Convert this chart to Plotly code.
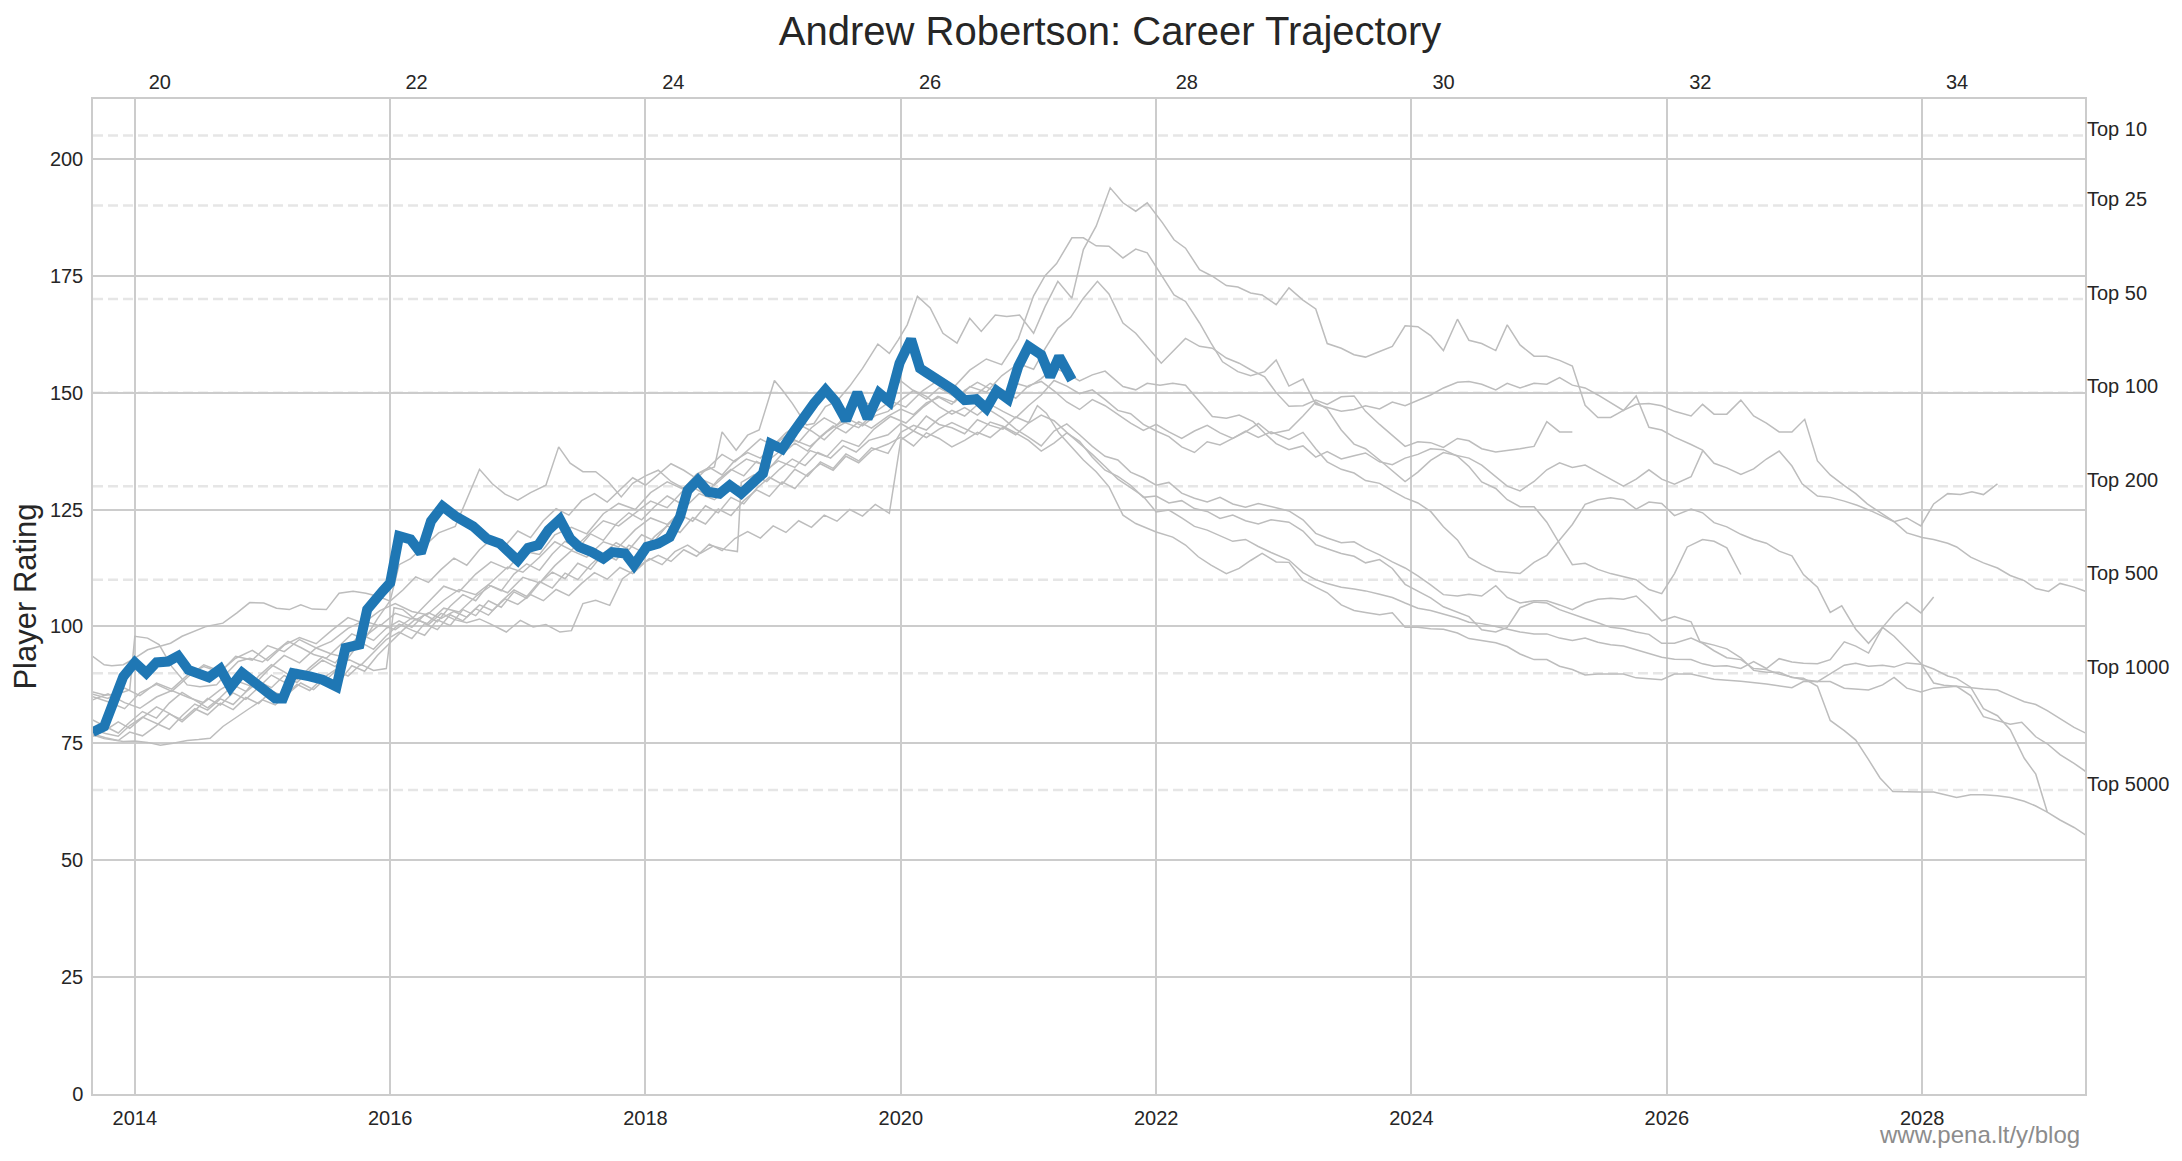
import plotly.graph_objects as go

# ---------------- data ----------------
PLAYER = "Andrew Robertson"

YEAR_TICKS = [2014, 2016, 2018, 2020, 2022, 2024, 2026, 2028]
AGE_TICKS = [20, 22, 24, 26, 28, 30, 32, 34]
RATING_TICKS = [0, 25, 50, 75, 100, 125, 150, 175, 200]

RANK_LEVELS = [205, 190, 170, 150, 130, 110, 90, 65]
RANK_LABELS = ["Top 10", "Top 25", "Top 50", "Top 100", "Top 200", "Top 500", "Top 1000", "Top 5000"]

ROBERTSON = [
    (2013.67, 77.4), (2013.76, 78.6), (2013.91, 89.3), (2014.00, 92.3), (2014.09, 90.0), (2014.17, 92.3),
    (2014.26, 92.5), (2014.34, 93.7), (2014.42, 90.7), (2014.58, 89.1), (2014.67, 90.9), (2014.75, 87.0),
    (2014.84, 90.1), (2014.93, 88.2), (2015.01, 87.1), (2015.10, 84.6), (2015.16, 84.6), (2015.24, 90.0),
    (2015.37, 89.3), (2015.47, 88.6), (2015.58, 87.1), (2015.65, 95.4), (2015.76, 96.1), (2015.82, 103.6),
    (2015.94, 107.5), (2016.00, 109.3), (2016.07, 119.3), (2016.16, 118.6), (2016.24, 115.7), (2016.32, 122.5),
    (2016.41, 125.7), (2016.51, 123.6), (2016.65, 121.4), (2016.76, 118.7), (2016.86, 117.7), (2016.94, 115.9),
    (2017.00, 114.1), (2017.08, 116.8), (2017.16, 117.4), (2017.24, 120.6), (2017.33, 122.9), (2017.41, 118.8),
    (2017.48, 117.0), (2017.58, 115.9), (2017.67, 114.5), (2017.74, 115.9), (2017.84, 115.6), (2017.91, 113.1),
    (2018.01, 117.0), (2018.10, 117.7), (2018.19, 119.1), (2018.27, 123.4), (2018.33, 129.1), (2018.41, 131.3),
    (2018.49, 128.8), (2018.58, 128.4), (2018.66, 130.2), (2018.75, 128.4), (2018.83, 130.2), (2018.92, 132.7),
    (2018.98, 139.1), (2019.07, 137.9), (2019.16, 141.6), (2019.26, 145.6), (2019.32, 147.7), (2019.41, 150.6),
    (2019.49, 148.1), (2019.57, 144.1), (2019.66, 150.0), (2019.74, 144.5), (2019.83, 149.9), (2019.91, 148.1),
    (2019.99, 156.3), (2020.08, 161.4), (2020.15, 155.2), (2020.20, 154.3), (2020.31, 152.4), (2020.41, 150.6),
    (2020.50, 148.4), (2020.59, 148.6), (2020.67, 146.6), (2020.75, 150.4), (2020.84, 148.6), (2020.92, 155.6),
    (2021.00, 159.9), (2021.10, 158.1), (2021.17, 153.4), (2021.24, 157.7), (2021.34, 152.7),
]

COMP_A = [
    (2013.67, 85.5), (2013.79, 84.6), (2013.92, 86.8), (2014.04, 85.2), (2014.17, 87.9), (2014.29, 86.6),
    (2014.42, 89.8), (2014.54, 91.4), (2014.67, 90.2), (2014.79, 93.6), (2014.92, 92.8), (2015.04, 95.9),
    (2015.17, 94.6), (2015.29, 97.2), (2015.42, 95.4), (2015.54, 96.8), (2015.67, 99.6), (2015.79, 101.2),
    (2015.92, 100.1), (2016.04, 102.8), (2016.17, 101.6), (2016.29, 104.9), (2016.42, 108.6), (2016.54, 107.4),
    (2016.67, 111.2), (2016.79, 113.8), (2016.92, 112.3), (2017.04, 116.1), (2017.17, 115.4), (2017.29, 119.6),
    (2017.42, 121.2), (2017.54, 119.8), (2017.67, 124.1), (2017.79, 126.3), (2017.92, 125.0), (2018.04, 128.6),
    (2018.17, 130.9), (2018.29, 129.4), (2018.42, 132.8), (2018.54, 134.1), (2018.60, 141.6), (2018.71, 137.7),
    (2018.80, 140.9), (2018.89, 142.0), (2019.01, 152.6), (2019.07, 150.6), (2019.15, 147.7), (2019.26, 143.1),
    (2019.32, 143.4), (2019.41, 147.0), (2019.50, 148.2), (2019.60, 151.4), (2019.70, 155.2), (2019.82, 160.4),
    (2019.91, 158.4), (2019.98, 161.3), (2020.05, 164.5), (2020.13, 170.6), (2020.23, 168.1), (2020.33, 162.7),
    (2020.44, 160.6), (2020.54, 165.9), (2020.63, 163.1), (2020.74, 166.6), (2020.83, 166.3), (2020.93, 166.6),
    (2021.04, 162.7), (2021.13, 168.4), (2021.23, 173.8), (2021.34, 170.2), (2021.43, 180.6), (2021.53, 185.6),
    (2021.64, 193.8), (2021.74, 190.6), (2021.84, 188.8), (2021.93, 190.6), (2022.05, 186.3), (2022.14, 182.7),
    (2022.23, 180.9), (2022.34, 176.3), (2022.44, 174.9), (2022.55, 172.9), (2022.64, 172.6), (2022.74, 171.3),
    (2022.83, 170.9), (2022.94, 168.8), (2023.04, 172.4), (2023.15, 169.8), (2023.25, 167.9), (2023.34, 160.5),
    (2023.45, 159.5), (2023.55, 158.1), (2023.64, 157.6), (2023.75, 158.8), (2023.85, 159.9), (2023.95, 164.3),
    (2024.05, 164.1), (2024.15, 162.2), (2024.25, 159.0), (2024.36, 165.7), (2024.45, 161.2), (2024.55, 160.5),
    (2024.66, 159.0), (2024.75, 164.5), (2024.85, 160.2), (2024.96, 157.8), (2025.06, 157.8), (2025.16, 156.9),
    (2025.26, 155.7), (2025.36, 147.3), (2025.46, 144.7), (2025.56, 144.7), (2025.66, 146.2), (2025.76, 147.5),
    (2025.86, 147.7), (2025.96, 147.2), (2026.06, 146.0), (2026.19, 145.0), (2026.28, 147.5), (2026.37, 145.4),
    (2026.47, 145.4), (2026.58, 148.4), (2026.68, 145.0), (2026.78, 143.5), (2026.88, 141.6), (2026.98, 141.6),
    (2027.08, 144.3), (2027.18, 135.4), (2027.28, 132.4), (2027.39, 130.1), (2027.48, 128.4), (2027.57, 126.2),
    (2027.67, 124.3), (2027.78, 122.4), (2027.88, 120.0), (2028.00, 119.0), (2028.09, 118.6), (2028.20, 117.8),
    (2028.27, 117.0), (2028.38, 114.8), (2028.48, 113.6), (2028.59, 112.5), (2028.69, 110.9), (2028.80, 109.8),
    (2028.89, 108.1), (2028.99, 107.5), (2029.08, 109.2), (2029.19, 108.4), (2029.28, 107.5),
]

COMP_E = [
    (2013.67, 85.0), (2013.79, 83.9), (2013.92, 82.4), (2014.04, 85.8), (2014.17, 87.6), (2014.29, 86.1),
    (2014.42, 89.3), (2014.54, 91.8), (2014.67, 90.4), (2014.79, 93.2), (2014.92, 94.9), (2015.04, 92.7),
    (2015.17, 96.0), (2015.29, 97.6), (2015.42, 96.3), (2015.54, 99.1), (2015.67, 101.9), (2015.79, 100.7),
    (2015.92, 103.4), (2016.04, 104.9), (2016.17, 103.2), (2016.29, 102.5), (2016.42, 105.6), (2016.54, 107.9),
    (2016.67, 106.8), (2016.79, 109.4), (2016.92, 112.7), (2017.04, 111.6), (2017.17, 114.8), (2017.29, 118.1),
    (2017.42, 116.3), (2017.54, 119.4), (2017.67, 122.6), (2017.79, 121.5), (2017.92, 124.2), (2018.04, 126.8),
    (2018.17, 125.4), (2018.29, 128.9), (2018.42, 131.7), (2018.54, 130.2), (2018.67, 133.4), (2018.79, 135.8),
    (2018.92, 134.6), (2019.04, 137.2), (2019.17, 139.8), (2019.29, 138.5), (2019.42, 141.6), (2019.54, 143.8),
    (2019.67, 142.5), (2019.79, 145.7), (2019.92, 148.2), (2020.04, 146.9), (2020.17, 150.4), (2020.29, 152.6),
    (2020.42, 151.3), (2020.54, 154.8), (2020.67, 157.2), (2020.79, 156.0), (2020.92, 161.5), (2021.04, 170.7),
    (2021.13, 175.0), (2021.22, 177.6), (2021.34, 183.1), (2021.43, 183.1), (2021.53, 181.4), (2021.63, 181.3),
    (2021.74, 178.8), (2021.84, 180.7), (2021.93, 179.9), (2022.03, 175.6), (2022.14, 170.9), (2022.23, 169.5),
    (2022.34, 164.9), (2022.43, 160.6), (2022.52, 156.6), (2022.64, 154.5), (2022.74, 153.6), (2022.85, 154.5),
    (2022.94, 157.0), (2023.04, 151.4), (2023.15, 152.9), (2023.25, 147.5), (2023.34, 146.8), (2023.45, 146.0),
    (2023.55, 146.4), (2023.64, 147.2), (2023.75, 146.5), (2023.85, 148.0), (2023.95, 147.2), (2024.05, 148.4),
    (2024.15, 149.5), (2024.25, 151.0), (2024.36, 152.2), (2024.45, 152.4), (2024.55, 151.8), (2024.66, 150.6),
    (2024.75, 152.0), (2024.85, 151.0), (2024.96, 152.0), (2025.06, 151.8), (2025.16, 153.2), (2025.26, 151.6),
    (2025.36, 151.0), (2025.46, 149.5), (2025.56, 147.9), (2025.66, 146.2), (2025.76, 149.3), (2025.86, 142.6),
    (2025.96, 142.0), (2026.06, 140.5), (2026.19, 138.9), (2026.28, 137.7), (2026.37, 134.9), (2026.47, 133.9),
    (2026.58, 132.5), (2026.68, 133.7), (2026.78, 135.8), (2026.88, 137.5), (2026.98, 134.3), (2027.06, 130.5),
    (2027.18, 127.9), (2027.28, 127.6), (2027.39, 126.8), (2027.49, 125.9), (2027.60, 124.7), (2027.69, 123.6),
    (2027.78, 122.4), (2027.88, 123.2), (2027.99, 121.5), (2028.09, 126.2), (2028.20, 128.4), (2028.30, 128.2),
    (2028.39, 128.8), (2028.48, 128.2), (2028.59, 130.5),
]

COMP_H = [
    (2013.67, 84.3), (2013.79, 85.6), (2013.92, 83.7), (2014.04, 82.5), (2014.17, 84.9), (2014.29, 86.3),
    (2014.42, 84.8), (2014.54, 83.7), (2014.67, 86.5), (2014.79, 88.4), (2014.92, 87.1), (2015.04, 90.6),
    (2015.17, 93.8), (2015.29, 92.2), (2015.42, 95.4), (2015.54, 94.1), (2015.67, 93.2), (2015.79, 97.6),
    (2015.92, 100.4), (2016.04, 99.3), (2016.17, 101.8), (2016.29, 100.6), (2016.42, 103.9), (2016.54, 103.1),
    (2016.67, 106.4), (2016.79, 108.7), (2016.92, 107.2), (2017.04, 110.5), (2017.17, 109.3), (2017.29, 113.0),
    (2017.42, 116.2), (2017.54, 114.8), (2017.67, 118.1), (2017.79, 117.0), (2017.92, 120.7), (2018.04, 123.2),
    (2018.17, 121.8), (2018.29, 125.0), (2018.42, 128.4), (2018.54, 127.1), (2018.67, 130.2), (2018.79, 128.8),
    (2018.92, 132.9), (2019.04, 135.4), (2019.17, 134.0), (2019.29, 137.6), (2019.42, 136.3), (2019.54, 139.8),
    (2019.67, 138.5), (2019.79, 142.2), (2019.92, 144.9), (2020.04, 143.5), (2020.17, 146.8), (2020.29, 149.2),
    (2020.42, 147.9), (2020.54, 151.3), (2020.67, 150.1), (2020.79, 153.6), (2020.92, 156.2), (2021.04, 155.0),
    (2021.13, 159.4), (2021.23, 163.8), (2021.33, 166.1), (2021.43, 170.2), (2021.54, 173.8), (2021.63, 171.1),
    (2021.74, 164.9), (2021.84, 162.7), (2021.93, 159.9), (2022.04, 156.3), (2022.13, 158.8), (2022.23, 161.6),
    (2022.34, 159.9), (2022.44, 159.5), (2022.55, 157.4), (2022.65, 156.3), (2022.74, 154.9), (2022.85, 153.4),
    (2022.94, 150.0), (2023.04, 147.1), (2023.15, 147.2), (2023.25, 148.4), (2023.34, 147.5), (2023.45, 149.1),
    (2023.55, 149.3), (2023.64, 146.0), (2023.75, 143.2), (2023.85, 140.8), (2023.95, 138.5), (2024.05, 139.5),
    (2024.15, 139.3), (2024.25, 138.3), (2024.36, 140.2), (2024.45, 139.7), (2024.55, 138.0), (2024.66, 137.3),
    (2024.75, 137.6), (2024.85, 138.0), (2024.96, 138.5), (2025.06, 143.8), (2025.16, 141.6), (2025.26, 141.6),
]

COMP_Y = [
    (2013.67, 86.0), (2013.77, 85.3), (2013.87, 85.6), (2013.96, 86.4), (2014.00, 97.9), (2014.10, 97.5),
    (2014.19, 96.1), (2014.29, 91.4), (2014.41, 87.5), (2014.51, 87.1), (2014.64, 87.5), (2014.72, 90.0),
    (2014.81, 92.5), (2014.90, 93.2), (2015.00, 92.4), (2015.10, 94.6), (2015.20, 96.8), (2015.30, 95.5),
    (2015.40, 94.0), (2015.50, 93.2), (2015.60, 95.8), (2015.70, 98.4), (2015.80, 97.2), (2015.90, 101.6),
    (2016.00, 105.5), (2016.07, 113.2), (2016.16, 114.5), (2016.25, 116.8), (2016.38, 120.0), (2016.51, 121.4),
    (2016.64, 130.0), (2016.70, 133.6), (2016.80, 130.5), (2016.90, 128.3), (2017.00, 127.0), (2017.10, 128.6),
    (2017.22, 130.2), (2017.32, 138.4), (2017.41, 134.9), (2017.51, 133.1), (2017.61, 133.1), (2017.71, 130.9),
    (2017.81, 127.7), (2017.90, 130.6), (2018.00, 132.2), (2018.10, 133.4), (2018.20, 131.0), (2018.30, 129.5),
    (2018.40, 132.6), (2018.50, 134.0), (2018.60, 132.4), (2018.70, 135.5), (2018.80, 137.2), (2018.90, 136.0),
    (2019.00, 138.6), (2019.10, 140.8), (2019.20, 139.4), (2019.30, 142.5), (2019.40, 144.6), (2019.50, 143.1),
    (2019.60, 146.0), (2019.70, 148.2), (2019.80, 147.0), (2019.90, 150.0), (2020.00, 152.5), (2020.10, 150.4),
    (2020.20, 148.6), (2020.30, 151.0), (2020.40, 149.5), (2020.50, 147.6), (2020.60, 149.8), (2020.70, 152.0),
    (2020.80, 150.6), (2020.90, 148.8), (2021.00, 151.5), (2021.10, 152.4), (2021.20, 150.4), (2021.30, 148.0),
    (2021.40, 146.4), (2021.50, 148.5), (2021.60, 147.2), (2021.70, 145.4), (2021.80, 143.5), (2021.90, 141.9),
    (2022.00, 143.2), (2022.10, 141.6), (2022.20, 140.2), (2022.30, 141.8), (2022.40, 143.0), (2022.50, 141.4),
    (2022.60, 140.2), (2022.70, 141.6), (2022.80, 143.4), (2022.90, 141.2), (2023.04, 142.0), (2023.15, 145.0),
    (2023.25, 148.0), (2023.34, 146.5), (2023.45, 142.0), (2023.55, 139.0), (2023.64, 138.0), (2023.75, 135.6),
    (2023.85, 133.4), (2023.95, 131.0), (2024.05, 133.0), (2024.15, 135.5), (2024.25, 137.2), (2024.36, 136.5),
    (2024.45, 136.0), (2024.55, 134.5), (2024.66, 132.0), (2024.75, 130.0), (2024.85, 129.0), (2024.96, 131.0),
    (2025.06, 133.5), (2025.16, 135.0), (2025.26, 134.0), (2025.36, 134.5), (2025.46, 133.0), (2025.56, 131.5),
    (2025.66, 130.0), (2025.76, 131.5), (2025.86, 133.5), (2025.96, 131.5), (2026.06, 130.4), (2026.19, 132.0),
    (2026.28, 137.5),
]

COMP_C = [
    (2013.67, 93.6), (2013.76, 91.8), (2013.82, 91.6), (2013.91, 91.8), (2014.00, 93.2), (2014.10, 95.0),
    (2014.19, 95.7), (2014.28, 96.4), (2014.37, 97.9), (2014.46, 98.9), (2014.56, 100.0), (2014.69, 100.7),
    (2014.80, 102.9), (2014.90, 105.1), (2015.01, 105.0), (2015.11, 103.9), (2015.21, 103.6), (2015.30, 104.6),
    (2015.39, 103.7), (2015.50, 103.6), (2015.60, 107.1), (2015.71, 107.5), (2015.81, 107.1), (2015.91, 106.4),
    (2016.00, 105.4), (2016.10, 107.8), (2016.20, 110.6), (2016.30, 109.4), (2016.40, 112.2), (2016.50, 114.6),
    (2016.60, 113.1), (2016.70, 116.4), (2016.80, 118.8), (2016.90, 117.2), (2017.00, 120.4), (2017.10, 119.0),
    (2017.20, 122.6), (2017.30, 125.2), (2017.40, 123.8), (2017.50, 126.9), (2017.60, 128.4), (2017.70, 126.6),
    (2017.80, 129.2), (2017.90, 131.8), (2018.00, 130.2), (2018.10, 132.6), (2018.20, 134.8), (2018.30, 133.4),
    (2018.40, 131.6), (2018.50, 134.2), (2018.60, 136.8), (2018.70, 135.2), (2018.80, 137.6), (2018.90, 140.1),
    (2019.00, 138.7), (2019.10, 141.4), (2019.20, 143.2), (2019.30, 141.8), (2019.40, 139.9), (2019.50, 142.6),
    (2019.60, 144.2), (2019.70, 142.9), (2019.80, 145.1), (2019.90, 146.0), (2020.00, 148.4), (2020.10, 150.5),
    (2020.20, 149.2), (2020.30, 147.0), (2020.40, 145.4), (2020.50, 146.8), (2020.60, 145.2), (2020.70, 147.5),
    (2020.80, 146.0), (2020.90, 144.6), (2021.00, 147.2), (2021.10, 149.5), (2021.20, 152.6), (2021.30, 151.4),
    (2021.40, 149.8), (2021.50, 150.6), (2021.60, 148.5), (2021.70, 146.2), (2021.80, 145.5), (2021.90, 143.2),
    (2022.00, 141.8), (2022.10, 140.6), (2022.20, 138.4), (2022.30, 137.2), (2022.40, 139.5), (2022.50, 138.8),
    (2022.60, 140.2), (2022.70, 141.8), (2022.80, 140.4), (2022.90, 141.6), (2023.04, 140.0), (2023.15, 141.5),
    (2023.25, 138.0), (2023.34, 135.2), (2023.45, 133.6), (2023.55, 132.8), (2023.64, 131.2), (2023.75, 130.6),
    (2023.85, 129.0), (2023.95, 127.5), (2024.05, 126.4), (2024.15, 124.6), (2024.25, 121.3), (2024.36, 118.5),
    (2024.45, 114.8), (2024.55, 113.2), (2024.66, 111.8), (2024.75, 111.5), (2024.85, 111.3), (2024.96, 113.7),
    (2025.06, 115.2), (2025.16, 118.5), (2025.26, 121.8), (2025.36, 126.1), (2025.46, 127.1), (2025.56, 127.5),
    (2025.66, 127.1), (2025.76, 125.1), (2025.86, 126.6), (2025.96, 126.3), (2026.06, 123.7), (2026.19, 125.1),
    (2026.28, 124.3), (2026.37, 122.2), (2026.47, 121.3), (2026.58, 119.7), (2026.68, 118.6), (2026.78, 117.8),
    (2026.88, 116.1), (2026.98, 115.1), (2027.07, 111.1), (2027.18, 108.4), (2027.28, 103.0), (2027.37, 104.4),
    (2027.48, 99.4), (2027.58, 96.4), (2027.69, 99.8), (2027.78, 97.9), (2027.88, 95.2), (2027.99, 92.1),
    (2028.09, 87.9), (2028.17, 87.4), (2028.27, 87.2), (2028.38, 85.2), (2028.48, 80.7), (2028.59, 79.9),
    (2028.69, 79.1), (2028.78, 79.5), (2028.89, 76.4), (2028.98, 74.9), (2029.08, 72.6), (2029.19, 70.7),
    (2029.28, 69.0),
]

COMP_G = [
    (2013.67, 80.0), (2013.77, 78.6), (2013.87, 77.2), (2013.96, 79.5), (2014.06, 81.8), (2014.17, 80.4),
    (2014.27, 83.6), (2014.37, 85.9), (2014.47, 84.2), (2014.57, 82.6), (2014.67, 84.8), (2014.77, 87.5),
    (2014.87, 86.1), (2014.97, 89.4), (2015.07, 91.8), (2015.17, 90.3), (2015.27, 88.6), (2015.37, 91.2),
    (2015.47, 93.5), (2015.57, 92.2), (2015.67, 95.6), (2015.77, 98.3), (2015.87, 97.0), (2015.97, 99.6),
    (2016.07, 101.2), (2016.17, 99.8), (2016.27, 102.5), (2016.37, 101.0), (2016.47, 104.3), (2016.57, 106.8),
    (2016.67, 105.5), (2016.77, 108.9), (2016.87, 107.6), (2016.97, 111.2), (2017.07, 113.4), (2017.17, 112.0),
    (2017.27, 115.5), (2017.37, 118.2), (2017.47, 116.6), (2017.57, 119.8), (2017.67, 118.4), (2017.77, 121.9),
    (2017.87, 124.3), (2017.97, 122.8), (2018.07, 125.6), (2018.17, 127.9), (2018.27, 126.4), (2018.37, 129.8),
    (2018.47, 128.2), (2018.57, 131.4), (2018.67, 133.6), (2018.77, 132.2), (2018.87, 135.3), (2018.97, 133.8),
    (2019.07, 136.9), (2019.17, 139.2), (2019.27, 137.5), (2019.37, 140.6), (2019.47, 142.9), (2019.57, 141.4),
    (2019.67, 143.8), (2019.77, 142.4), (2019.90, 145.0), (2020.00, 146.5), (2020.10, 145.3), (2020.20, 147.8),
    (2020.30, 149.0), (2020.40, 147.5), (2020.50, 150.5), (2020.60, 152.2), (2020.70, 150.8), (2020.80, 149.6),
    (2020.90, 152.0), (2021.00, 151.2), (2021.10, 153.0), (2021.20, 155.4), (2021.30, 154.1), (2021.40, 152.5),
    (2021.50, 153.8), (2021.60, 154.6), (2021.74, 151.3), (2021.84, 150.6), (2021.93, 152.0), (2022.03, 151.6),
    (2022.13, 152.0), (2022.23, 151.6), (2022.34, 148.1), (2022.44, 144.9), (2022.55, 144.5), (2022.65, 145.2),
    (2022.76, 143.8), (2022.85, 141.3), (2022.94, 139.1), (2023.04, 137.8), (2023.15, 138.6), (2023.25, 136.2),
    (2023.34, 137.4), (2023.45, 135.8), (2023.55, 136.5), (2023.64, 137.1), (2023.75, 135.2), (2023.85, 134.6),
    (2023.95, 136.0), (2024.05, 136.8), (2024.15, 138.0), (2024.25, 137.8), (2024.36, 136.4), (2024.45, 134.2),
    (2024.55, 130.9), (2024.66, 129.5), (2024.75, 127.1), (2024.85, 125.6), (2024.96, 125.6), (2025.06, 122.3),
    (2025.16, 117.7), (2025.26, 113.2), (2025.36, 113.5), (2025.46, 112.2), (2025.56, 111.3), (2025.66, 110.6),
    (2025.76, 110.0), (2025.86, 107.9), (2025.96, 107.0), (2026.06, 111.3), (2026.16, 117.0), (2026.28, 118.6),
    (2026.37, 118.2), (2026.47, 116.8), (2026.58, 111.1),
]

COMP_D = [
    (2013.67, 78.0), (2013.77, 77.1), (2013.87, 76.5), (2013.96, 78.8), (2014.06, 80.6), (2014.17, 79.2),
    (2014.27, 78.0), (2014.37, 80.9), (2014.47, 83.4), (2014.57, 82.1), (2014.67, 84.5), (2014.77, 83.3),
    (2014.87, 86.0), (2014.97, 88.2), (2015.07, 86.9), (2015.17, 89.5), (2015.27, 88.0), (2015.37, 90.6),
    (2015.47, 92.8), (2015.57, 91.4), (2015.67, 94.2), (2015.77, 96.6), (2015.87, 95.1), (2015.97, 98.0),
    (2016.07, 100.5), (2016.17, 99.2), (2016.27, 98.1), (2016.37, 101.4), (2016.47, 100.2), (2016.57, 103.6),
    (2016.67, 102.3), (2016.77, 105.5), (2016.87, 104.1), (2016.97, 107.4), (2017.07, 106.0), (2017.17, 109.3),
    (2017.27, 111.6), (2017.37, 110.2), (2017.47, 113.5), (2017.57, 112.2), (2017.67, 115.6), (2017.77, 117.9),
    (2017.87, 116.4), (2017.97, 119.6), (2018.07, 118.3), (2018.17, 121.6), (2018.27, 123.9), (2018.37, 122.5),
    (2018.47, 125.8), (2018.57, 124.3), (2018.67, 127.6), (2018.77, 126.2), (2018.87, 129.5), (2018.97, 131.9),
    (2019.07, 130.4), (2019.17, 133.6), (2019.27, 132.1), (2019.37, 135.2), (2019.47, 133.8), (2019.57, 136.9),
    (2019.67, 135.4), (2019.77, 138.2), (2019.90, 137.0), (2020.00, 141.5), (2020.10, 143.0), (2020.20, 142.0),
    (2020.30, 144.5), (2020.40, 146.2), (2020.50, 145.0), (2020.60, 147.4), (2020.70, 146.2), (2020.80, 144.5),
    (2020.90, 142.2), (2021.00, 140.5), (2021.10, 138.6), (2021.20, 141.8), (2021.30, 143.3), (2021.40, 141.0),
    (2021.50, 138.5), (2021.60, 136.4), (2021.70, 135.6), (2021.80, 133.0), (2021.90, 131.8), (2022.00, 130.2),
    (2022.10, 130.8), (2022.20, 128.5), (2022.30, 127.4), (2022.40, 126.6), (2022.50, 127.6), (2022.60, 126.2),
    (2022.70, 125.5), (2022.80, 126.3), (2022.90, 125.6), (2023.04, 124.7), (2023.15, 122.8), (2023.25, 119.9),
    (2023.34, 118.9), (2023.45, 117.9), (2023.55, 118.1), (2023.64, 116.7), (2023.75, 115.3), (2023.85, 113.8),
    (2023.95, 112.5), (2024.05, 110.8), (2024.15, 108.9), (2024.25, 106.8), (2024.36, 106.5), (2024.45, 106.9),
    (2024.55, 106.5), (2024.66, 108.7), (2024.75, 106.2), (2024.85, 105.0), (2024.96, 105.5), (2025.06, 105.5),
    (2025.16, 104.6), (2025.26, 103.6), (2025.36, 105.0), (2025.46, 105.8), (2025.56, 106.0), (2025.66, 105.8),
    (2025.76, 106.5), (2025.86, 104.0), (2025.96, 101.2), (2026.06, 102.1), (2026.19, 101.0), (2026.26, 96.7),
    (2026.37, 96.0), (2026.47, 95.2), (2026.58, 93.3), (2026.68, 90.6), (2026.78, 90.2), (2026.88, 90.2),
    (2026.98, 89.1), (2027.07, 88.9), (2027.18, 87.2), (2027.28, 79.9), (2027.39, 77.7), (2027.48, 75.7),
    (2027.58, 71.5), (2027.67, 67.6), (2027.77, 64.7), (2027.88, 64.6), (2027.99, 64.6), (2028.09, 64.6),
    (2028.20, 63.8), (2028.27, 63.4), (2028.38, 64.0), (2028.48, 64.0), (2028.59, 63.8), (2028.69, 63.4),
    (2028.80, 62.6), (2028.89, 61.6), (2028.98, 60.3), (2029.08, 58.6), (2029.19, 57.0), (2029.28, 55.4),
]

COMP_X = [
    (2013.67, 77.0), (2013.77, 76.2), (2013.87, 75.6), (2013.96, 77.4), (2014.06, 76.6), (2014.17, 78.8),
    (2014.27, 81.3), (2014.37, 80.0), (2014.47, 82.4), (2014.57, 81.1), (2014.67, 83.6), (2014.77, 82.2),
    (2014.87, 84.8), (2014.97, 83.5), (2015.07, 86.2), (2015.17, 85.0), (2015.27, 87.6), (2015.37, 86.3),
    (2015.47, 88.9), (2015.57, 90.7), (2015.67, 89.4), (2015.77, 91.9), (2015.87, 90.6), (2015.97, 91.0),
    (2016.03, 104.0), (2016.10, 103.6), (2016.20, 101.4), (2016.30, 102.9), (2016.40, 101.7), (2016.50, 103.2),
    (2016.60, 102.0), (2016.70, 104.6), (2016.80, 103.4), (2016.90, 105.9), (2017.00, 104.7), (2017.10, 106.8),
    (2017.20, 105.5), (2017.30, 107.9), (2017.40, 106.6), (2017.50, 109.2), (2017.60, 111.5), (2017.70, 110.1),
    (2017.80, 112.6), (2017.90, 111.3), (2018.00, 113.8), (2018.10, 115.2), (2018.20, 113.9), (2018.30, 116.4),
    (2018.40, 115.0), (2018.50, 117.6), (2018.60, 116.2), (2018.70, 118.8), (2018.80, 120.3), (2018.90, 118.9),
    (2019.00, 121.5), (2019.10, 120.1), (2019.20, 122.6), (2019.30, 121.2), (2019.40, 123.8), (2019.50, 122.5),
    (2019.60, 125.0), (2019.70, 123.6), (2019.80, 126.1), (2019.91, 124.2), (2020.00, 139.9), (2020.10, 141.8),
    (2020.20, 140.4), (2020.30, 142.2), (2020.40, 143.6), (2020.50, 142.3), (2020.60, 141.0), (2020.70, 143.7),
    (2020.80, 142.8), (2020.90, 141.4), (2021.00, 139.8), (2021.10, 137.5), (2021.20, 139.2), (2021.30, 141.4),
    (2021.40, 139.6), (2021.50, 136.2), (2021.60, 133.4), (2021.70, 132.1), (2021.80, 130.2), (2021.90, 127.6),
    (2022.00, 127.9), (2022.10, 126.4), (2022.20, 126.9), (2022.30, 125.2), (2022.40, 124.6), (2022.50, 123.1),
    (2022.60, 123.8), (2022.70, 122.6), (2022.80, 121.9), (2022.90, 122.8), (2023.04, 122.3), (2023.15, 120.4),
    (2023.25, 117.5), (2023.34, 116.6), (2023.45, 115.6), (2023.55, 115.0), (2023.64, 113.6), (2023.75, 114.3),
    (2023.85, 112.4), (2023.95, 109.0), (2024.05, 107.5), (2024.15, 106.1), (2024.25, 104.2), (2024.36, 103.0),
    (2024.45, 102.1), (2024.55, 99.3), (2024.66, 98.8), (2024.75, 99.8), (2024.85, 104.0), (2024.96, 105.2),
    (2025.06, 105.0), (2025.16, 103.6), (2025.26, 102.6), (2025.36, 101.7), (2025.46, 100.8), (2025.56, 99.8),
    (2025.66, 99.5), (2025.76, 98.8), (2025.86, 98.3), (2025.96, 96.4), (2026.06, 96.4), (2026.19, 97.5),
    (2026.28, 96.4), (2026.37, 94.8), (2026.47, 93.3), (2026.58, 92.9), (2026.68, 91.0), (2026.78, 90.8),
    (2026.88, 89.8), (2026.98, 89.1), (2027.07, 88.6), (2027.18, 88.2), (2027.28, 89.8), (2027.39, 91.7),
    (2027.48, 92.1), (2027.58, 91.5), (2027.69, 91.7), (2027.78, 91.3), (2027.88, 92.2), (2027.99, 91.9),
    (2028.09, 90.9), (2028.20, 89.4), (2028.27, 88.9), (2028.38, 87.0), (2028.48, 82.4), (2028.59, 80.9),
    (2028.69, 77.9), (2028.80, 71.8), (2028.89, 68.4), (2028.98, 60.3),
]

COMP_F = [
    (2013.67, 76.5), (2013.77, 77.8), (2013.87, 79.6), (2013.96, 78.2), (2014.06, 80.5), (2014.17, 82.8),
    (2014.27, 81.4), (2014.37, 79.6), (2014.47, 82.0), (2014.57, 84.6), (2014.67, 83.2), (2014.77, 85.8),
    (2014.87, 84.4), (2014.97, 87.0), (2015.07, 89.6), (2015.17, 88.1), (2015.27, 90.8), (2015.37, 89.4),
    (2015.47, 87.8), (2015.57, 90.4), (2015.67, 93.0), (2015.77, 91.7), (2015.87, 94.5), (2015.97, 97.2),
    (2016.07, 98.8), (2016.17, 97.4), (2016.27, 100.6), (2016.37, 99.3), (2016.47, 102.5), (2016.57, 101.2),
    (2016.67, 103.8), (2016.77, 102.4), (2016.87, 105.3), (2016.97, 107.8), (2017.07, 106.4), (2017.17, 109.6),
    (2017.27, 108.2), (2017.37, 111.4), (2017.47, 110.0), (2017.57, 113.2), (2017.67, 115.6), (2017.77, 114.2),
    (2017.87, 117.4), (2017.97, 116.0), (2018.07, 119.2), (2018.17, 121.5), (2018.27, 120.1), (2018.37, 123.3),
    (2018.47, 121.9), (2018.57, 125.1), (2018.67, 123.7), (2018.77, 126.9), (2018.87, 129.2), (2018.97, 127.8),
    (2019.07, 130.9), (2019.17, 129.5), (2019.27, 132.6), (2019.37, 134.8), (2019.47, 133.4), (2019.57, 136.4),
    (2019.67, 135.0), (2019.77, 137.6), (2019.90, 139.0), (2020.00, 140.5), (2020.10, 138.6), (2020.20, 141.4),
    (2020.30, 140.2), (2020.40, 138.4), (2020.50, 139.8), (2020.60, 141.5), (2020.70, 140.4), (2020.80, 142.6),
    (2020.90, 141.0), (2021.00, 143.5), (2021.10, 145.2), (2021.20, 144.0), (2021.30, 141.5), (2021.40, 139.2),
    (2021.50, 136.8), (2021.60, 134.2), (2021.70, 131.5), (2021.80, 129.7), (2021.90, 127.8), (2022.00, 124.5),
    (2022.10, 124.9), (2022.20, 123.2), (2022.30, 121.4), (2022.40, 120.6), (2022.50, 119.4), (2022.60, 118.2),
    (2022.70, 118.6), (2022.80, 117.1), (2022.90, 115.8), (2023.04, 114.2), (2023.15, 111.5), (2023.25, 110.0),
    (2023.34, 109.2), (2023.45, 108.4), (2023.55, 108.0), (2023.64, 107.6), (2023.75, 106.9), (2023.85, 106.2),
    (2023.95, 105.0), (2024.05, 103.9), (2024.15, 103.4), (2024.25, 102.6), (2024.36, 101.8), (2024.45, 100.9),
    (2024.55, 100.6), (2024.66, 100.0), (2024.75, 99.5), (2024.85, 98.8), (2024.96, 98.4), (2025.06, 98.4),
    (2025.16, 97.5), (2025.26, 97.0), (2025.36, 97.5), (2025.46, 96.6), (2025.56, 96.1), (2025.66, 95.8),
    (2025.76, 95.0), (2025.86, 94.2), (2025.96, 93.4), (2026.06, 93.0), (2026.19, 92.9), (2026.28, 92.0),
    (2026.37, 91.5), (2026.47, 91.6), (2026.58, 91.0), (2026.68, 92.5), (2026.78, 91.0), (2026.88, 93.1),
    (2026.98, 92.4), (2027.07, 92.1), (2027.18, 92.0), (2027.28, 92.9), (2027.39, 96.7), (2027.48, 95.8),
    (2027.58, 94.3), (2027.69, 99.8), (2027.78, 102.7), (2027.88, 105.2), (2027.99, 102.9), (2028.09, 106.3),
]

COMP_B = [
    (2013.67, 76.8), (2013.76, 76.0), (2013.91, 75.4), (2014.00, 75.5), (2014.10, 75.2), (2014.20, 74.6),
    (2014.30, 75.0), (2014.41, 75.6), (2014.50, 75.8), (2014.59, 76.1), (2014.69, 78.6), (2014.80, 80.7),
    (2014.90, 82.5), (2015.00, 84.3), (2015.10, 83.2), (2015.20, 85.6), (2015.30, 87.9), (2015.40, 86.5),
    (2015.50, 89.0), (2015.60, 88.2), (2015.70, 91.6), (2015.80, 90.4), (2015.90, 93.8), (2016.00, 96.5),
    (2016.10, 99.2), (2016.20, 101.6), (2016.30, 100.4), (2016.40, 102.8), (2016.50, 101.5), (2016.60, 100.8),
    (2016.70, 101.6), (2016.78, 100.6), (2016.91, 98.8), (2017.02, 101.3), (2017.12, 99.9), (2017.22, 100.4),
    (2017.33, 98.8), (2017.42, 99.1), (2017.51, 104.9), (2017.61, 105.6), (2017.72, 104.5), (2017.82, 110.2),
    (2017.93, 112.4), (2018.03, 114.5), (2018.13, 113.2), (2018.23, 116.0), (2018.33, 117.4), (2018.43, 115.6),
    (2018.53, 117.2), (2018.63, 116.4), (2018.72, 116.0), (2018.75, 130.8), (2018.85, 132.4), (2018.95, 131.0),
    (2019.05, 133.6), (2019.15, 135.8), (2019.25, 134.4), (2019.35, 137.2), (2019.45, 136.0), (2019.55, 138.6),
    (2019.65, 137.3), (2019.75, 139.8), (2019.90, 141.0), (2020.00, 143.4), (2020.10, 141.8), (2020.20, 145.0),
    (2020.30, 143.2), (2020.40, 142.5), (2020.50, 141.2), (2020.60, 144.2), (2020.70, 143.0), (2020.80, 142.2),
    (2020.90, 144.8), (2021.00, 143.6), (2021.07, 147.2), (2021.14, 145.6), (2021.24, 141.3), (2021.34, 138.4),
    (2021.43, 135.6), (2021.53, 133.1), (2021.63, 129.9), (2021.74, 123.8), (2021.84, 122.0), (2022.00, 120.2),
    (2022.13, 119.1), (2022.23, 117.4), (2022.33, 114.9), (2022.43, 113.1), (2022.55, 111.3), (2022.65, 112.4),
    (2022.74, 114.1), (2022.83, 115.6), (2022.94, 113.8), (2023.04, 113.7), (2023.15, 109.9), (2023.25, 108.4),
    (2023.34, 107.2), (2023.45, 104.6), (2023.55, 103.4), (2023.64, 103.0), (2023.75, 102.5), (2023.85, 102.9),
    (2023.95, 99.8), (2024.05, 99.8), (2024.15, 99.5), (2024.25, 99.4), (2024.36, 98.6), (2024.45, 97.4),
    (2024.55, 97.0), (2024.66, 96.5), (2024.75, 95.7), (2024.85, 94.1), (2024.96, 92.9), (2025.06, 92.9),
    (2025.16, 91.5), (2025.26, 90.8), (2025.36, 89.6), (2025.46, 89.8), (2025.56, 89.8), (2025.66, 89.8),
    (2025.76, 89.0), (2025.86, 88.8), (2025.96, 88.6), (2026.06, 89.8), (2026.19, 89.8), (2026.37, 88.7),
    (2026.58, 88.3), (2026.78, 87.7), (2026.98, 86.9), (2027.07, 88.2), (2027.28, 88.2), (2027.39, 86.8),
    (2027.58, 86.4), (2027.69, 87.5), (2027.78, 89.1), (2027.88, 86.8), (2027.99, 86.0), (2028.09, 86.8),
    (2028.27, 87.2), (2028.48, 86.6), (2028.59, 86.4), (2028.69, 85.2), (2028.80, 83.9), (2028.89, 83.3),
    (2028.98, 82.0), (2029.08, 80.3), (2029.19, 78.4), (2029.28, 77.2),
]

COMPARABLES = [COMP_A, COMP_E, COMP_H, COMP_Y, COMP_C, COMP_G, COMP_D, COMP_X, COMP_F, COMP_B]

# ---------------- figure ----------------
X_RANGE = [2013.6725, 2029.2755]
AGE_RANGE = [19.4795, 34.997]
Y_RANGE = [0, 212.8]
LABEL_SHIFT = 1.4

FONT = "Liberation Sans, Arial, Helvetica, sans-serif"
TXT = "#262626"
GRID = "#cccccc"

# page has an 8px body margin; size the figure so the plot lands where the reference has it
FIG_W, FIG_H = 2166, 1145
M_L, M_R, M_T, M_B = 85, 89, 91, 59

fig = go.Figure()

for comp in COMPARABLES:
    fig.add_trace(go.Scatter(
        x=[p[0] for p in comp], y=[p[1] for p in comp], mode="lines",
        line=dict(color="#bdbdbd", width=1.5), hoverinfo="skip", showlegend=False,
    ))

fig.add_trace(go.Scatter(
    x=[p[0] for p in ROBERTSON], y=[p[1] for p in ROBERTSON], mode="lines",
    line=dict(color="#1f77b4", width=10), name=PLAYER, showlegend=False,
))

# invisible helper traces so the age axis and the rank axis are drawn
fig.add_trace(go.Scatter(x=[AGE_TICKS[0]], y=[None], xaxis="x2", yaxis="y",
                         mode="markers", showlegend=False, hoverinfo="skip"))
fig.add_trace(go.Scatter(x=[X_RANGE[0]], y=[None], xaxis="x", yaxis="y2",
                         mode="markers", showlegend=False, hoverinfo="skip"))

shapes = []
for lvl in RANK_LEVELS:
    shapes.append(dict(
        type="line", xref="paper", x0=0, x1=1, yref="y", y0=lvl, y1=lvl,
        line=dict(color="#e6e6e6", width=2.5, dash="10px,5px"), layer="between",
    ))

fig.update_layout(
    width=FIG_W, height=FIG_H,
    margin=dict(l=M_L, r=M_R, t=M_T, b=M_B, autoexpand=False),
    paper_bgcolor="white", plot_bgcolor="white",
    font=dict(family=FONT, color=TXT, size=20),
    title=dict(text=f"{PLAYER}: Career Trajectory", x=0.5088, xanchor="center",
               y=1 - 22.6 / FIG_H, yanchor="middle",
               font=dict(size=40, family=FONT, color=TXT)),
    xaxis=dict(
        range=X_RANGE, tickvals=YEAR_TICKS, ticktext=[str(v) for v in YEAR_TICKS],
        showgrid=True, gridcolor=GRID, gridwidth=1.5, zeroline=False,
        showline=True, linecolor=GRID, linewidth=1.5, mirror=True, automargin=False,
        ticks="", tickfont=dict(size=20, color=TXT), ticklabelstandoff=5,
    ),
    xaxis2=dict(
        range=AGE_RANGE, tickvals=AGE_TICKS, ticktext=[str(v) for v in AGE_TICKS],
        overlaying="x", side="top", anchor="y", showgrid=False, zeroline=False,
        showline=False, ticks="", tickfont=dict(size=20, color=TXT), ticklabelstandoff=5,
        automargin=False,
    ),
    yaxis=dict(
        range=Y_RANGE, tickvals=RATING_TICKS, ticktext=[str(v) for v in RATING_TICKS],
        showgrid=True, gridcolor=GRID, gridwidth=1.5, zeroline=False,
        showline=True, linecolor=GRID, linewidth=1.5, mirror=True, automargin=False,
        ticks="", tickfont=dict(size=20, color=TXT), ticklabelstandoff=4,
    ),
    yaxis2=dict(
        range=[Y_RANGE[0] - LABEL_SHIFT, Y_RANGE[1] - LABEL_SHIFT],
        tickvals=RANK_LEVELS, ticktext=RANK_LABELS,
        overlaying="y", side="right", anchor="x", showgrid=False, zeroline=False,
        showline=False, ticks="", tickfont=dict(size=20, color=TXT), ticklabelstandoff=1,
        automargin=False,
    ),
    shapes=shapes,
    annotations=[
        dict(text="Player Rating", xref="paper", yref="paper", x=-0.0341, y=0.5,
             xanchor="center", yanchor="middle", textangle=-90, showarrow=False,
             font=dict(size=31, family=FONT, color=TXT)),
        dict(text="www.pena.lt/y/blog", xref="paper", yref="paper",
             x=1, xshift=-3, y=-(1134 - 1094) / 995,
             xanchor="right", yanchor="middle", showarrow=False,
             font=dict(size=24, family=FONT, color="#8c8c8c")),
    ],
)

fig.write_html("out.html")
